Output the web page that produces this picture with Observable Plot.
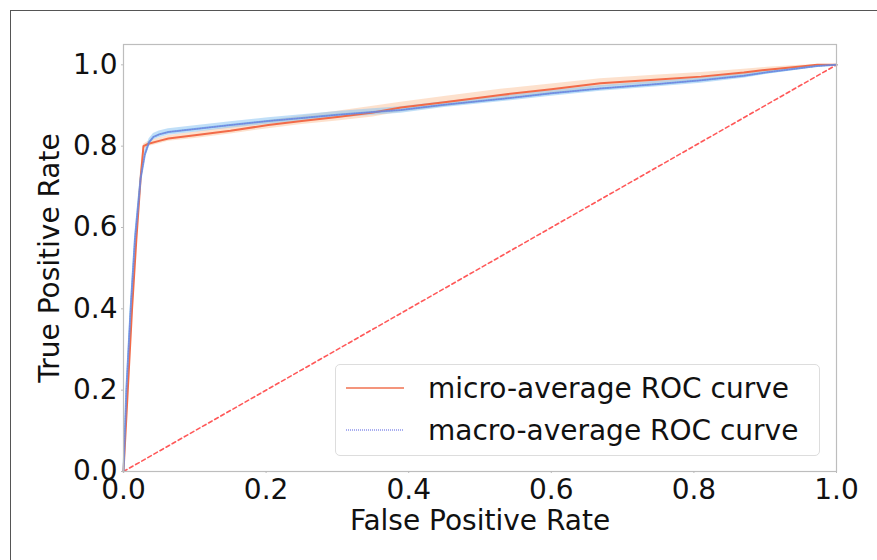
<!DOCTYPE html>
<html>
<head>
<meta charset="utf-8">
<script src="https://cdn.jsdelivr.net/npm/d3@7"></script>
<script src="https://cdn.jsdelivr.net/npm/@observablehq/plot@0.6"></script>
<style>
  html, body { margin: 0; padding: 0; background: #fff; }
  #wrap { position: relative; width: 877px; height: 560px; overflow: hidden; font-family: "DejaVu Sans", sans-serif; }
  #border { position: absolute; left: 10px; top: 10px; right: -5px; bottom: -5px; border-top: 1px solid #555; border-left: 1px solid #555; pointer-events: none; }
  #legend { position: absolute; left: 335px; top: 364px; width: 485px; height: 92px; border: 1px solid #ddd; border-radius: 5px; background: rgba(255,255,255,0.85); box-sizing: border-box; }
  .row { position: absolute; left: 0; height: 40px; display: flex; align-items: center; }
  .row svg { margin-left: 10px; margin-right: 22px; }
  .row span { font-size: 28px; color: #111; white-space: nowrap; }
</style>
</head>
<body>
<div id="wrap"><div id="border"></div></div>
<script>
// ---- data ----
const fprMicro = [0, 0.006, 0.012, 0.018, 0.024, 0.028, 0.035, 0.05, 0.063, 0.1, 0.15, 0.203, 0.25, 0.3, 0.35, 0.389, 0.45, 0.529, 0.6, 0.669, 0.75, 0.81, 0.87, 0.903, 0.95, 0.973, 1.0];
const tprMicro = [0, 0.2, 0.4, 0.57, 0.72, 0.80, 0.806, 0.813, 0.819, 0.827, 0.838, 0.852, 0.862, 0.872, 0.883, 0.895, 0.908, 0.926, 0.94, 0.955, 0.964, 0.971, 0.981, 0.988, 0.996, 1.0, 1.0];
const microHi  = [0, 0.22, 0.42, 0.59, 0.74, 0.805, 0.812, 0.820, 0.826, 0.835, 0.848, 0.863, 0.875, 0.886, 0.898, 0.908, 0.922, 0.940, 0.953, 0.966, 0.975, 0.981, 0.989, 0.994, 0.999, 1.0, 1.0];
const microLo  = [0, 0.18, 0.38, 0.55, 0.70, 0.792, 0.799, 0.806, 0.812, 0.819, 0.830, 0.843, 0.853, 0.862, 0.872, 0.884, 0.897, 0.914, 0.929, 0.945, 0.955, 0.963, 0.974, 0.982, 0.992, 0.998, 1.0];

const fprMacro = [0, 0.004, 0.01, 0.016, 0.024, 0.030, 0.036, 0.042, 0.05, 0.063, 0.1, 0.15, 0.203, 0.25, 0.3, 0.35, 0.389, 0.45, 0.529, 0.6, 0.669, 0.75, 0.81, 0.87, 0.903, 0.95, 0.973, 1.0];
const tprMacro = [0, 0.2, 0.4, 0.57, 0.72, 0.78, 0.81, 0.823, 0.829, 0.835, 0.842, 0.852, 0.862, 0.869, 0.877, 0.884, 0.889, 0.902, 0.916, 0.93, 0.942, 0.953, 0.962, 0.973, 0.982, 0.992, 0.997, 1.0];
const macroHi  = [0, 0.215, 0.415, 0.585, 0.735, 0.79, 0.818, 0.831, 0.837, 0.843, 0.85, 0.86, 0.87, 0.877, 0.885, 0.892, 0.897, 0.909, 0.923, 0.937, 0.949, 0.96, 0.968, 0.978, 0.986, 0.995, 0.999, 1.0];
const macroLo  = [0, 0.185, 0.385, 0.555, 0.705, 0.77, 0.802, 0.815, 0.821, 0.827, 0.834, 0.844, 0.854, 0.861, 0.869, 0.876, 0.881, 0.895, 0.909, 0.923, 0.935, 0.946, 0.955, 0.967, 0.977, 0.988, 0.994, 1.0];

const diagX = [0, 1];
const diagY = [0, 1];

const tickValues = [0, 0.2, 0.4, 0.6, 0.8, 1.0];
const seriesNames = ["micro-average ROC curve", "macro-average ROC curve"];
const xLabel = "False Positive Rate";
const yLabel = "True Positive Rate";

// ---- tables ----
const micro = fprMicro.map((x, i) => ({x, y: tprMicro[i], lo: microLo[i], hi: microHi[i]}));
const macro = fprMacro.map((x, i) => ({x, y: tprMacro[i], lo: macroLo[i], hi: macroHi[i]}));
const diag = diagX.map((x, i) => ({x, y: diagY[i]}));

const microColor = "#f26a48";
const macroColor = "#5d9be6";

const chart = Plot.plot({
  width: 877,
  height: 560,
  marginLeft: 123,
  marginRight: 41,
  marginTop: 44,
  marginBottom: 89,
  style: {fontFamily: "DejaVu Sans, sans-serif", fontSize: "28px", color: "#111", background: "transparent"},
  x: {domain: [0, 1]},
  y: {domain: [0, 1.05]},
  marks: [
    Plot.areaY(micro, {x: "x", y1: "lo", y2: "hi", fill: "#fcc9a4", fillOpacity: 0.55}),
    Plot.areaY(macro, {x: "x", y1: "lo", y2: "hi", fill: "#8cc4f2", fillOpacity: 0.55}),
    Plot.line(diag, {x: "x", y: "y", stroke: "#ff3b3b", strokeWidth: 1.6, strokeDasharray: "4,3", strokeOpacity: 0.85}),
    Plot.line(micro, {x: "x", y: "y", stroke: microColor, strokeWidth: 2}),
    Plot.line(macro, {x: "x", y: "y", stroke: macroColor, strokeWidth: 2, strokeOpacity: 0.8}),
    Plot.line(macro, {x: "x", y: "y", stroke: "#7a72d8", strokeWidth: 1.2, strokeDasharray: "1,1.5", strokeOpacity: 0.7}),
    Plot.frame({stroke: "#bdbdbd", strokeWidth: 1.2}),
    Plot.axisX({ticks: tickValues, tickFormat: d3.format(".1f"), tickSize: 2, tickPadding: 6, stroke: "#bbb", fill: "#111",
      label: xLabel, labelAnchor: "center", labelArrow: "none", labelOffset: 58}),
    Plot.axisY({ticks: tickValues, tickFormat: d3.format(".1f"), tickSize: 2, tickPadding: 4, stroke: "#bbb", fill: "#111",
      label: yLabel, labelAnchor: "center", labelArrow: "none", labelOffset: 84})
  ]
});
const wrap = document.getElementById("wrap");
wrap.insertBefore(chart, wrap.firstChild);

// ---- legend ----
const legend = document.createElement("div");
legend.id = "legend";
const swatches = [
  `<svg width="60" height="6"><line x1="0" y1="3" x2="58" y2="3" stroke="#f4957c" stroke-width="2"/></svg>`,
  `<svg width="60" height="6"><line x1="0" y1="3" x2="58" y2="3" stroke="#a8aef0" stroke-width="2" stroke-dasharray="1,1"/></svg>`
];
seriesNames.forEach((name, i) => {
  const row = document.createElement("div");
  row.className = "row";
  row.style.top = (i === 0 ? 3 : 45) + "px";
  row.innerHTML = swatches[i] + `<span>${name}</span>`;
  legend.appendChild(row);
});
wrap.appendChild(legend);
</script>
</body>
</html>
